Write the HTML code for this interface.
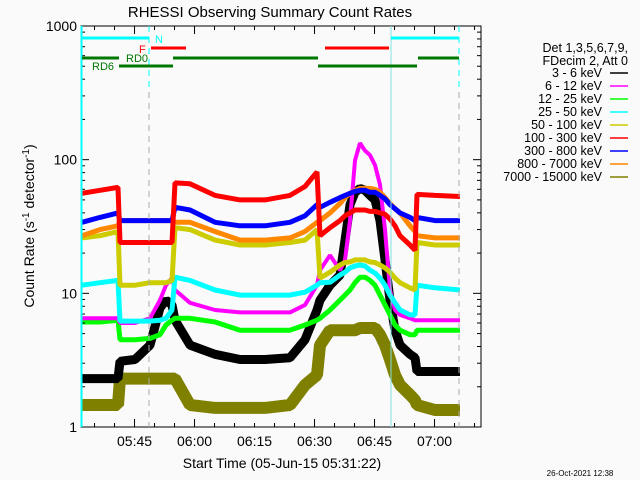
<!DOCTYPE html>
<html><head><meta charset="utf-8"><style>
body{margin:0;background:#fafafa;}
svg{display:block;font-family:"Liberation Sans",sans-serif;}
</style></head><body>
<svg id="chart" width="640" height="480">
<rect width="640" height="480" fill="#fafafa"/>
<text x="270" y="17" text-anchor="middle" font-size="15">RHESSI Observing Summary Count Rates</text>
<g id="series"></g>
<g id="axes"></g>
<g id="flags"></g>
<text transform="translate(34,226) rotate(-90)" text-anchor="middle" font-size="14">Count Rate (s<tspan dy="-5" font-size="10">-1</tspan><tspan dy="5"> detector</tspan><tspan dy="-5" font-size="10">-1</tspan><tspan dy="5">)</tspan></text>
<text x="282" y="468" text-anchor="middle" font-size="14">Start Time (05-Jun-15 05:31:22)</text>
<text x="580" y="476" text-anchor="middle" font-size="8">26-Oct-2021 12:38</text>
<g id="legend"></g>
</svg>
<script>
const times=[0.5,5,9.5,10,13.75,17.5,20,21.5,23,23.75,27.5,33.75,40,46.25,52.5,56.25,59.25,60,62.5,65,66.25,67.5,68.75,70,71.25,72.5,73.75,75,76.25,77.5,78.75,80,82.5,83.75,84.25,88.75,95];
const bandLabels=["3 - 6 keV","6 - 12 keV","12 - 25 keV","25 - 50 keV","50 - 100 keV","100 - 300 keV","300 - 800 keV","800 - 7000 keV","7000 - 15000 keV"];
const v3_6=[2.3,2.3,2.3,3.1,3.2,4.1,7.8,8.9,8.2,6.3,4.1,3.5,3.2,3.2,3.3,4.5,7.5,8.9,11.5,13.7,25,46,57,61,59,54,50,35,17.8,8.9,5.3,4.1,3.5,3.3,2.6,2.6,2.6];
const v6_12=[6.5,6.5,6.5,6,6,6.5,8.9,11.5,13,10.6,8.5,7.5,7.2,7.2,7.2,8.2,11.5,14.9,19.3,14.9,17.8,35,99,133,117,108,91,65,30,10.6,7.5,6.9,6.5,6.3,6.3,6.3,6.3];
const v12_25=[6.1,6.1,6.3,4.5,4.5,4.6,4.9,5.8,6.3,6.5,6.5,6.1,5.3,5.3,5.3,5.8,6.3,6.5,7.5,8.9,9.7,10.6,12,13.2,13.2,12.5,11.5,9.7,8.2,6.9,5.8,5.3,4.9,4.9,5.3,5.3,5.3];
const v25_50=[11.5,12,12.5,6.2,6.2,6.2,6.3,6.5,7.5,13.2,12.5,10.6,9.7,9.7,9.7,10.2,11.5,12,12.1,13.7,14.4,15.5,16,16.3,16,14.9,14.2,13,11.5,9.7,8.5,7.5,6.9,6.9,11.5,11,10.6];
const v50_100=[26,27,29,11.5,11.5,12,12,12,12.5,31,30,25,23,23,24,25,30,13,14.4,16.3,17,17.2,17.8,17.8,17.8,17.2,17,16.3,15.5,14.4,13,12,11,10.6,24,23,23];
const v100_300=[56,59,62,24,24,24,24,24,24,67,66,54,50,50,54,63,81,27,31,35,38,40,42,42,42,41,41,40,39,36,32,27,23,21,55,54,53];
const v300_800=[34,37,40,35,35,35,35,35,35,44,42,34,32,32,34,38,46,44,48,52,54,56,58,59,59,57,57,54,51,46,43,40,37,35,37,35,35];
const v800_7000=[27,30,32,35,35,35,35,35,35,34,34,29,25,25,26,29,34,35,40,47,52,56,59,61,61,61,60,57,52,47,43,40,32,29,27,26,26];
const v7000_15000=[1.46,1.46,1.46,2.3,2.3,2.3,2.3,2.3,2.3,2.3,1.46,1.39,1.39,1.39,1.46,2.06,2.45,4.1,5.3,5.3,5.3,5.3,5.3,5.5,5.5,5.5,5.5,4.9,4.1,3.2,2.45,2.06,1.74,1.59,1.46,1.34,1.34];
const yTickValues=[1,10,100,1000];
const xTickLabels=["05:45","06:00","06:15","06:30","06:45","07:00"];
const xTickMinutes=[13.633,28.633,43.633,58.633,73.633,88.633];

const NS="http://www.w3.org/2000/svg";
const L=81,R=481,T=26,B=427;
function xs(t){return 80+4*t;}
function ys(v){return B-(B-T)/3*Math.log10(v);}
function mk(tag,parent,attrs){const e=document.createElementNS(NS,tag);for(const k in attrs)e.setAttribute(k,attrs[k]);parent.appendChild(e);return e;}

const series=[
 {d:v7000_15000,c:"#808000",w:12,n:"series-7000-15000"},
 {d:v3_6,c:"#000000",w:9,n:"series-3-6"},
 {d:v12_25,c:"#00ff00",w:5,n:"series-12-25"},
 {d:v6_12,c:"#ff00ff",w:4,n:"series-6-12"},
 {d:v25_50,c:"#00ffff",w:5,n:"series-25-50"},
 {d:v50_100,c:"#cccc00",w:5,n:"series-50-100"},
 {d:v800_7000,c:"#ff8800",w:5,n:"series-800-7000"},
 {d:v300_800,c:"#0000ff",w:5,n:"series-300-800"},
 {d:v100_300,c:"#ff0000",w:5,n:"series-100-300"}
];
const sg=document.getElementById("series");
series.forEach(s=>{
 const pts=s.d.map((v,i)=>xs(times[i]).toFixed(1)+","+ys(v).toFixed(1)).join(" ");
 const p=mk("polyline",sg,{points:pts,fill:"none",stroke:s.c,"stroke-width":s.w,"stroke-linejoin":"bevel"});
 
 
});

const ax=document.getElementById("axes");
mk("rect",ax,{x:L,y:T,width:R-L,height:B-T,fill:"none",stroke:"#000","stroke-width":1});
yTickValues.forEach((v,i)=>{
 const y=ys(v);
 mk("line",ax,{x1:L,x2:L+8,y1:y,y2:y,stroke:"#000"});
 mk("line",ax,{x1:R-8,x2:R,y1:y,y2:y,stroke:"#000"});
 const t=mk("text",ax,{x:L-4,y:y+5,"text-anchor":"end","font-size":14});
 t.textContent=String(v);
 
 
 if(i<yTickValues.length-1){for(let m=2;m<10;m++){const yy=ys(v*m);
  mk("line",ax,{x1:L,x2:L+4,y1:yy,y2:yy,stroke:"#000"});
  mk("line",ax,{x1:R-4,x2:R,y1:yy,y2:yy,stroke:"#000"});}}
});
for(let m=3.633;m<100;m+=5){const x=xs(m);const major=Math.abs(((m-13.633)/15)%1)<0.01;const len=major?8:4;
 mk("line",ax,{x1:x,x2:x,y1:B,y2:B-len,stroke:"#000"});
 mk("line",ax,{x1:x,x2:x,y1:T,y2:T+len,stroke:"#000"});}
xTickLabels.forEach((lab,i)=>{
 const t=mk("text",ax,{x:xs(xTickMinutes[i]),y:446,"text-anchor":"middle","font-size":14});
 t.textContent=lab;
 
 
});

const fg=document.getElementById("flags");
mk("line",fg,{x1:81.5,x2:81.5,y1:T,y2:B,stroke:"#00ffff","stroke-width":2});
mk("line",fg,{x1:149,x2:149,y1:T,y2:B,stroke:"#aaaaaa","stroke-dasharray":"6,5"});
mk("line",fg,{x1:149,x2:149,y1:T,y2:90,stroke:"#00ffff","stroke-dasharray":"6,5"});
mk("line",fg,{x1:391,x2:391,y1:T,y2:B,stroke:"#80e0e0","stroke-width":1});
mk("line",fg,{x1:459,x2:459,y1:T,y2:B,stroke:"#aaaaaa","stroke-dasharray":"6,5"});
mk("line",fg,{x1:459,x2:459,y1:T,y2:90,stroke:"#00ffff","stroke-dasharray":"6,5"});
const bars=[[82,149,38,"#00ffff"],[391,459,38,"#00ffff"],[151,186,48,"#ff0000"],[325,389,48,"#ff0000"],
 [82,119,58,"#007700"],[173,318,58,"#007700"],[418,459,58,"#007700"],[119,173,66,"#007700"],[318,417,66,"#007700"]];
bars.forEach(b=>{const l=mk("line",fg,{x1:b[0],x2:b[1],y1:b[2],y2:b[2],stroke:b[3],"stroke-width":3});
 
 });
[["N",155,43,"#00ffff"],["F",139,53,"#ff0000"],["RD0",126,62,"#007700"],["RD6",92,70,"#007700"]].forEach(a=>{
 const t=mk("text",fg,{x:a[1],y:a[2],fill:a[3],"font-size":11});t.textContent=a[0];
 
 });

const lg=document.getElementById("legend");
const h1=mk("text",lg,{x:628,y:52,"text-anchor":"end","font-size":12.5});h1.textContent="Det 1,3,5,6,7,9,";
const h2=mk("text",lg,{x:628,y:65,"text-anchor":"end","font-size":12.5});h2.textContent="FDecim 2, Att 0";
const legColors=["#000000","#ff00ff","#00ff00","#00ffff","#cccc00","#ff0000","#0000ff","#ff8800","#808000"];
bandLabels.forEach((lab,i)=>{const y=73+i*13;
 const t=mk("text",lg,{x:602,y:y+4,"text-anchor":"end","font-size":12.5});t.textContent=lab;
 
 
 mk("line",lg,{x1:610,x2:628,y1:y,y2:y,stroke:legColors[i],"stroke-width":1.5});});
</script>
</body></html>
